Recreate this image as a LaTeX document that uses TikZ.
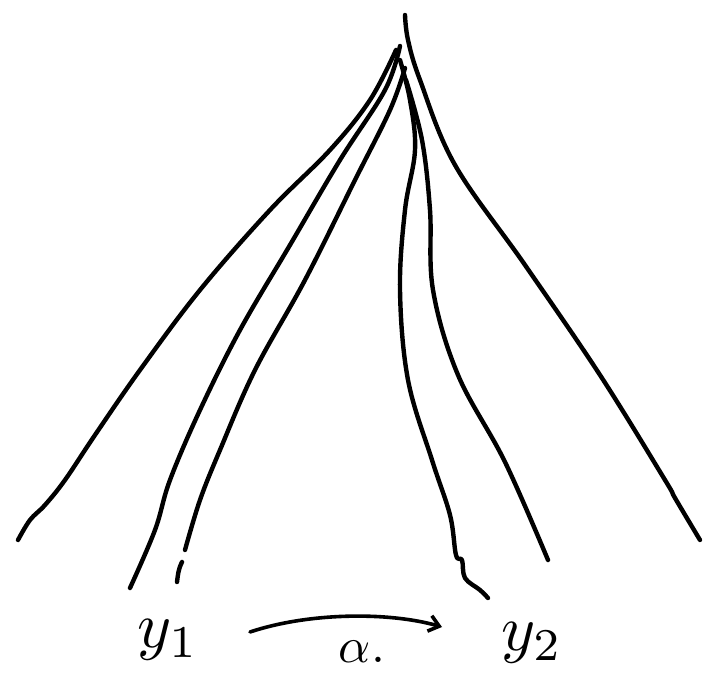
\documentclass[tikz,border=0pt]{standalone}
\usepackage{graphicx}
\usetikzlibrary{arrows.meta}
\begin{document}
\begin{tikzpicture}[x=1pt,y=-1pt,
  stroke/.style={line width=4.4pt,line cap=round,line join=round},
  lbl/.style={inner sep=0pt}]
\useasboundingbox (0,0) rectangle (716,685);
% rays from apex
\draw[stroke] plot[smooth,tension=0.6] coordinates {(396,50) (370,100) (330,150) (270,210) (200,290) (140,370) (95,435) (65,480) (45,505) (30,520) (18,540)};
\draw[stroke] plot[smooth,tension=0.6] coordinates {(400,46) (385,90) (340,160) (290,245) (240,330) (200,410) (170,480) (155,530) (130,588)};
\draw[stroke] plot[smooth,tension=0.6] coordinates {(405,68) (390,110) (355,180) (305,280) (255,370) (220,450) (200,500) (185,550)};
\draw[stroke] (182,562) .. controls (178,570) and (178,575) .. (177,582);
\draw[stroke] plot[smooth,tension=0.6] coordinates {(400,60) (410,100) (415,150) (405,210) (400,290) (408,380) (432,460) (450,515) (456,555) (462,560) (465,578) (480,590) (488,598)};
\draw[stroke] plot[smooth,tension=0.6] coordinates {(406,80) (422,140) (430,210) (433,290) (458,375) (505,462) (548,560)};
\draw[stroke] plot[smooth,tension=0.6] coordinates {(405,15) (408,40) (420,80) (455,165) (525,265) (600,375) (665,480) (675,498) (700,540)};
% labels
\node[lbl] (y1) at (168,640) {\scalebox{6.5}{$y_1$}};
\node[lbl] (y2) at (532,643) {\scalebox{6.5}{$y_2$}};
\node[lbl] (al) at (362,652) {\scalebox{5}{$\alpha.$}};
\coordinate (as) at (250,632);
\coordinate (ae) at (442,627);
\draw[line width=3.6pt,line cap=round,-{Straight Barb[length=10pt,width=16pt]}] (as) .. controls (310,612) and (390,612) .. (ae);
\end{tikzpicture}
\end{document}
